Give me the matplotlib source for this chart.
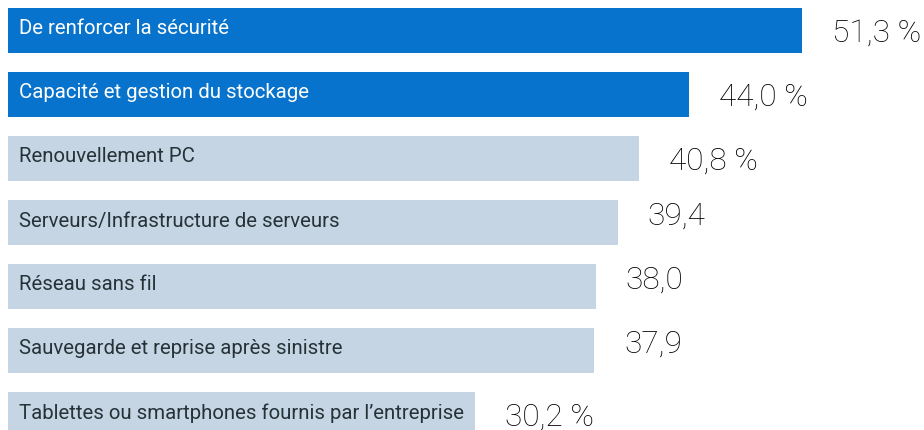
import matplotlib
matplotlib.use("Agg")
import matplotlib.pyplot as plt

categories = [
    "De renforcer la sécurité",
    "Capacité et gestion du stockage",
    "Renouvellement PC",
    "Serveurs/Infrastructure de serveurs",
    "Réseau sans fil",
    "Sauvegarde et reprise après sinistre",
    "Tablettes ou smartphones fournis par l’entreprise",
]
values = [51.3, 44.0, 40.8, 39.4, 38.0, 37.9, 30.2]
value_labels = ["51,3 %", "44,0 %", "40,8 %", "39,4", "38,0", "37,9", "30,2 %"]
highlight = [True, True, False, False, False, False, False]

blue = "#0873cc"
light = "#c5d5e3"

fig = plt.figure(figsize=(9.24, 4.30), dpi=100)
ax = fig.add_axes([8 / 924, 0, 1 - 8 / 924, 1])

y = list(range(len(values)))
colors = [blue if h else light for h in highlight]
ax.barh(y, values, height=45 / 64, color=colors, align="center")

for i, (v, cat, lab, h) in enumerate(zip(values, categories, value_labels, highlight)):
    ax.annotate(cat, xy=(0, i), xytext=(11, 1.5), textcoords="offset pixels",
                ha="left", va="center", fontsize=14.7, family="Roboto",
                color="white" if h else "#263238")
    dy = -2.5 if "%" in lab else 6.5
    ax.annotate(lab, xy=(v, i), xytext=(30, dy), textcoords="offset pixels",
                ha="left", va="center", fontsize=22.8, family="Roboto",
                fontweight="light", color="#000000")

ax.set_xlim(0, 916 / 15.47)
ax.set_ylim((430 - 30.5) / 64, -30.5 / 64)
ax.axis("off")

fig.savefig("out.png", dpi=100)
